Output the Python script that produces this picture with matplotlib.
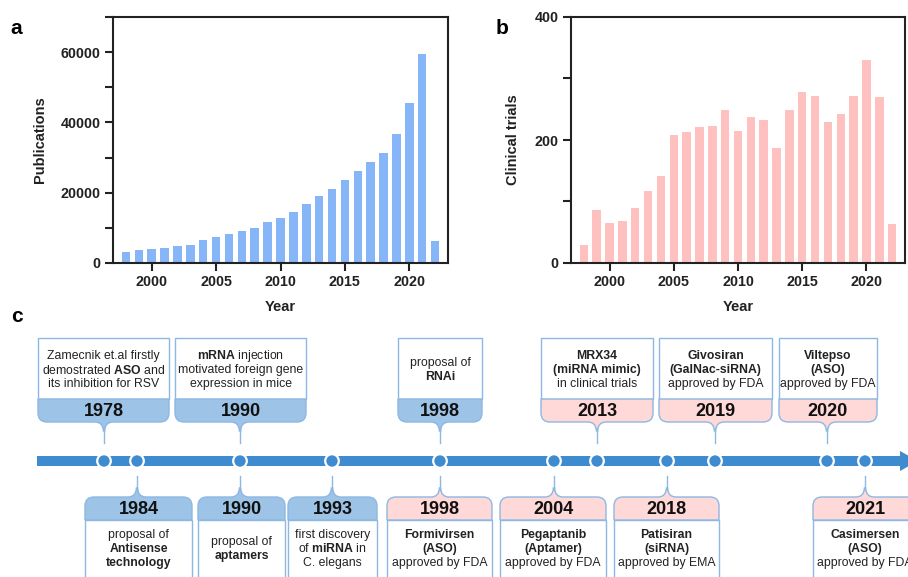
import matplotlib
matplotlib.use("Agg")
import matplotlib.pyplot as plt
from matplotlib.path import Path
from matplotlib.patches import PathPatch, Rectangle, Circle, Polygon
from matplotlib.ticker import MultipleLocator

plt.rcParams['font.family'] = ['Liberation Sans', 'DejaVu Sans']
plt.rcParams['mathtext.fontset'] = 'custom'
plt.rcParams['mathtext.rm'] = 'Liberation Sans'
plt.rcParams['mathtext.bf'] = 'Liberation Sans:bold'

# ---------------- data ----------------
years = list(range(1998, 2023))
publications = [3000, 3600, 4000, 4400, 4750, 5200, 6500, 7300, 8200, 9000,
                10100, 11600, 12800, 14500, 16700, 19200, 21100, 23600, 26100,
                28700, 31300, 36700, 45600, 59400, 6200]
clinical_trials = [30, 86, 65, 68, 89, 117, 141, 208, 213, 221, 223, 248, 215,
                   237, 233, 187, 248, 278, 271, 229, 242, 272, 330, 270, 64]

top_years = ['1978', '1990', '1998', '2013', '2019', '2020']
top_kinds = ['blue', 'blue', 'blue', 'pink', 'pink', 'pink']
top_texts = [
    ["Zamecnik et.al firstly", "demostrated **ASO** and", "its inhibition for RSV"],
    ["**mRNA** injection", "motivated foreign gene", "expression in mice"],
    ["proposal of", "**RNAi**"],
    ["**MRX34**", "**(miRNA mimic)**", "in clinical trials"],
    ["**Givosiran**", "**(GalNac-siRNA)**", "approved by FDA"],
    ["**Viltepso**", "**(ASO)**", "approved by FDA"],
]
bottom_years = ['1984', '1990', '1993', '1998', '2004', '2018', '2021']
bottom_kinds = ['blue', 'blue', 'blue', 'pink', 'pink', 'pink', 'pink']
bottom_texts = [
    ["proposal of", "**Antisense**", "**technology**"],
    ["proposal of", "**aptamers**"],
    ["first discovery", "of **miRNA** in", "C. elegans"],
    ["**Formivirsen**", "**(ASO)**", "approved by FDA"],
    ["**Pegaptanib**", "**(Aptamer)**", "approved by FDA"],
    ["**Patisiran**", "**(siRNA)**", "approved by EMA"],
    ["**Casimersen**", "**(ASO)**", "approved by FDA"],
]

# ---------------- layout (pixels) ----------------
top_boxes = [(38, 169), (175, 306), (398, 482), (541, 653), (659, 772), (779, 877)]
top_anchor = [104, 240, 440, 597, 715, 827]
bottom_boxes = [(85, 192), (198, 285), (288, 377), (387, 492), (500, 606), (614, 719), (813, 917)]
bottom_anchor = [137, 240, 332, 440, 554, 667, 865]

W, H = 908, 577
fig = plt.figure(figsize=(W / 100, H / 100), dpi=100)

bar_blue = '#86B6F7'
bar_pink = '#FFC0C0'


def style_axes(ax):
    for s in ax.spines.values():
        s.set_linewidth(1.5)
        s.set_color('#222222')
    ax.tick_params(axis='both', which='major', length=6, width=1.5,
                   labelsize=10.3, color='#222222', pad=3)
    ax.tick_params(axis='y', which='minor', length=6, width=1.5, color='#222222')
    ax.tick_params(axis='x', which='minor', length=0)
    for lbl in ax.get_xticklabels() + ax.get_yticklabels():
        lbl.set_fontweight('bold')
        lbl.set_color('#222222')


def px_axes(l, r, t, b):
    return [l / W, 1 - b / H, (r - l) / W, (b - t) / H]


# Panel a
axa = fig.add_axes(px_axes(113, 448, 17, 263))
axa.bar(years, publications, width=0.66, color=bar_blue, edgecolor='none')
axa.set_xlim(1997, 2023)
axa.set_ylim(0, 70000)
axa.set_xticks([2000, 2005, 2010, 2015, 2020])
axa.set_yticks([0, 20000, 40000, 60000])
axa.yaxis.set_minor_locator(MultipleLocator(10000))
style_axes(axa)
axa.set_ylabel('Publications', fontsize=10.5, fontweight='bold', color='#222222')
axa.yaxis.set_label_coords(-0.197, 0.5)
axa.set_xlabel('Year', fontsize=10.5, fontweight='bold', color='#222222')
axa.xaxis.set_label_coords(0.5, -0.152)

# Panel b
axb = fig.add_axes(px_axes(571, 905, 17, 263))
axb.bar(years, clinical_trials, width=0.66, color=bar_pink, edgecolor='none')
axb.set_xlim(1997, 2023)
axb.set_ylim(0, 400)
axb.set_xticks([2000, 2005, 2010, 2015, 2020])
axb.set_yticks([0, 200, 400])
axb.yaxis.set_minor_locator(MultipleLocator(100))
style_axes(axb)
axb.set_ylabel('Clinical trials', fontsize=10.5, fontweight='bold', color='#222222')
axb.yaxis.set_label_coords(-0.153, 0.5)
axb.set_xlabel('Year', fontsize=10.5, fontweight='bold', color='#222222')
axb.xaxis.set_label_coords(0.5, -0.152)

# Overlay axes in pixel coords
axc = fig.add_axes([0, 0, 1, 1], zorder=-1)
axc.set_xlim(0, W)
axc.set_ylim(H, 0)
axc.axis('off')

axc.text(16, 28, 'a', fontsize=15, fontweight='bold', ha='center', va='center')
axc.text(502, 28, 'b', fontsize=15, fontweight='bold', ha='center', va='center')
axc.text(17, 316, 'c', fontsize=15, fontweight='bold', ha='center', va='center')

hdr_color = {'blue': '#9DC3E6', 'pink': '#FFD8D8'}
border = '#8DB8E3'
line_blue = '#3E8CCF'


def draw_lines(cx, cy, lines, fs=8.8, spacing=14):
    n = len(lines)
    for i, ln in enumerate(lines):
        y = cy + (i - (n - 1) / 2) * spacing
        parts = ln.split('**')
        if len(parts) == 3 and parts[0] == '' and parts[2] == '':
            axc.text(cx, y, parts[1], fontsize=fs, fontweight='bold',
                     ha='center', va='center', color='#222222')
        elif len(parts) == 1:
            axc.text(cx, y, ln, fontsize=fs, ha='center', va='center', color='#222222')
        else:
            s = ''
            for k, p in enumerate(parts):
                if k % 2 == 1:
                    s += r'$\mathbf{' + p.replace(' ', r'\ ') + '}$'
                else:
                    s += p
            axc.text(cx, y, s, fontsize=fs, ha='center', va='center', color='#222222')


def header_path(x0, x1, px, ya, yb, r=9, w=9, h=9):
    # ya: edge shared with white box, yb: free edge (curved corners, wedge)
    d = 1 if yb > ya else -1
    verts = [(x0, ya), (x1, ya), (x1, yb - d * r), (x1, yb), (x1 - r, yb),
             (px + w, yb), (px + 1, yb), (px + 0.6, yb + d * h),
             (px - 0.6, yb + d * h), (px - 1, yb), (px - w, yb),
             (x0 + r, yb), (x0, yb), (x0, yb - d * r), (x0, ya)]
    codes = [Path.MOVETO, Path.LINETO, Path.LINETO, Path.CURVE3, Path.CURVE3,
             Path.LINETO, Path.CURVE3, Path.CURVE3,
             Path.LINETO, Path.CURVE3, Path.CURVE3,
             Path.LINETO, Path.CURVE3, Path.CURVE3, Path.CLOSEPOLY]
    return Path(verts, codes)


# timeline
y_line = 461
axc.add_patch(Rectangle((37, y_line - 5), 866, 10, fc=line_blue, ec='none', zorder=2))
axc.add_patch(Polygon([(900, y_line - 10), (918, y_line), (900, y_line + 10)],
                      closed=True, fc=line_blue, ec='none', zorder=2))
for xa in sorted(set(top_anchor + bottom_anchor)):
    axc.add_patch(Circle((xa, y_line), 6.8, fc=line_blue, ec='white', lw=1.6, zorder=3))

# top callouts
for (x0, x1), xa, yr, kind, txt in zip(top_boxes, top_anchor, top_years, top_kinds, top_texts):
    axc.add_patch(Rectangle((x0, 338), x1 - x0, 61, fc='white', ec=border, lw=1, zorder=2))
    axc.add_patch(PathPatch(header_path(x0, x1, xa, 399, 422), fc=hdr_color[kind],
                            ec=border, lw=1, zorder=2))
    axc.plot([xa, xa], [428, 443], color=border, lw=1, zorder=2)
    axc.text((x0 + x1) / 2, 411, yr, fontsize=13, fontweight='bold', ha='center',
             va='center', color='#111111', zorder=4)
    draw_lines((x0 + x1) / 2, 370, txt)

# bottom callouts
for (x0, x1), xa, yr, kind, txt in zip(bottom_boxes, bottom_anchor, bottom_years, bottom_kinds, bottom_texts):
    axc.add_patch(Rectangle((x0, 520), x1 - x0, 70, fc='white', ec=border, lw=1, zorder=2))
    axc.add_patch(PathPatch(header_path(x0, x1, xa, 520, 497), fc=hdr_color[kind],
                            ec=border, lw=1, zorder=2))
    axc.plot([xa, xa], [476, 490], color=border, lw=1, zorder=2)
    axc.text((x0 + x1) / 2, 509, yr, fontsize=13, fontweight='bold', ha='center',
             va='center', color='#111111', zorder=4)
    draw_lines((x0 + x1) / 2, 549, txt)

fig.savefig('out.png', dpi=100)
